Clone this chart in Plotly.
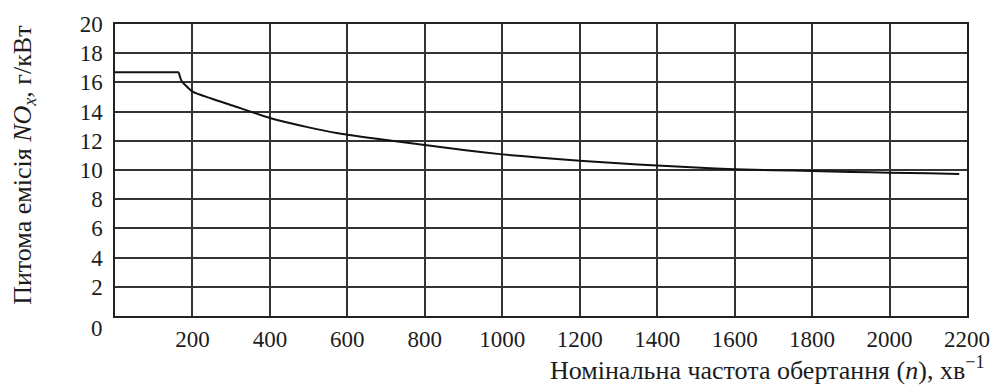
import plotly.graph_objects as go

# Data
flat_n = [0, 165]
flat_nox = [16.69, 16.69]
n_rpm = [165, 167, 172, 184, 200, 250, 303, 400, 500, 576, 700, 800, 900, 1000,
         1100, 1200, 1300, 1400, 1500, 1600, 1700, 1800, 1900, 2000, 2100, 2180]
nox = [16.69, 16.45, 16.1, 15.75, 15.37, 14.88, 14.42, 13.56, 12.92, 12.52, 12.05,
       11.71, 11.37, 11.07, 10.84, 10.64, 10.46, 10.3, 10.17, 10.05, 9.99, 9.93, 9.87,
       9.82, 9.77, 9.73]

x_ticks = [200, 400, 600, 800, 1000, 1200, 1400, 1600, 1800, 2000, 2200]
y_ticks = [2, 4, 6, 8, 10, 12, 14, 16, 18, 20]

FONT = "Liberation Serif"
L, R, T, B = 115, 27, 24, 71
W, H = 1002, 387
pw = W - L - R
ph = H - T - B
TXT = "#1c1c1c"

fig = go.Figure()
fig.add_trace(go.Scatter(x=flat_n, y=flat_nox, mode="lines",
                         line=dict(color="#111111", width=2), showlegend=False))
fig.add_trace(go.Scatter(x=n_rpm, y=nox, mode="lines",
                         line=dict(color="#111111", width=2, shape="spline", smoothing=0.5),
                         showlegend=False))

fig.update_layout(
    width=W, height=H,
    margin=dict(l=L, r=R, t=T, b=B),
    paper_bgcolor="white", plot_bgcolor="white",
    font=dict(family=FONT, size=23, color=TXT),
    xaxis=dict(range=[0, 2200], tickvals=x_ticks, ticktext=[str(v) for v in x_ticks],
               showgrid=True, gridcolor="#333333", gridwidth=1.5,
               showline=True, linecolor="#222222", linewidth=1.5, mirror=True,
               ticks="", zeroline=False, ticklabelstandoff=2,
               tickfont=dict(family=FONT, size=23, color=TXT)),
    yaxis=dict(range=[0, 20], tickvals=y_ticks, ticktext=[str(v) for v in y_ticks],
               showgrid=True, gridcolor="#333333", gridwidth=1.5,
               showline=True, linecolor="#222222", linewidth=1.5, mirror=True,
               ticks="", zeroline=False, ticklabelstandoff=6,
               tickfont=dict(family=FONT, size=23, color=TXT)),
)

fig.add_annotation(text="0", xref="paper", yref="paper",
                   x=(97 - L) / pw, y=-(328 - (H - B)) / ph,
                   xanchor="center", yanchor="middle", showarrow=False,
                   font=dict(family=FONT, size=23, color=TXT))

fig.add_annotation(text="Питома емісія <i>NO<sub>x</sub></i>, г/кВт",
                   xref="paper", yref="paper",
                   x=(23 - L) / pw, y=((H - B) - 165) / ph,
                   xanchor="center", yanchor="middle", textangle=-90, showarrow=False,
                   font=dict(family=FONT, size=26, color=TXT))

fig.add_annotation(text="Номінальна частота обертання (<i>n</i>), хв<sup>−1</sup>",
                   xref="paper", yref="paper",
                   x=(995 - L) / pw, y=-(368 - (H - B)) / ph,
                   xanchor="right", yanchor="middle", showarrow=False,
                   font=dict(family=FONT, size=26, color=TXT))

fig.write_html("out.html")
